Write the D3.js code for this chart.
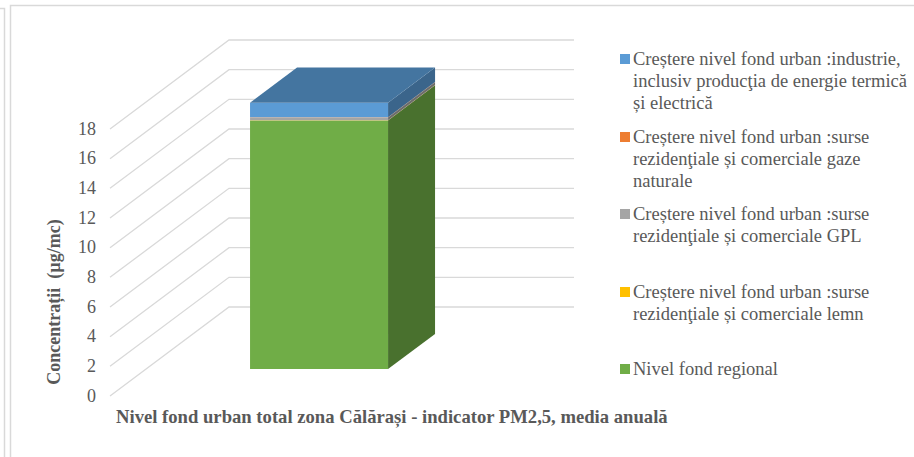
<!DOCTYPE html>
<html>
<head>
<meta charset="utf-8">
<script src="https://cdnjs.cloudflare.com/ajax/libs/d3/7.8.5/d3.min.js"></script>
<style>
  html, body { margin: 0; padding: 0; background: #fff; }
  svg { display: block; }
  text { font-family: "Liberation Serif", serif; fill: #595959; white-space: pre; }
</style>
</head>
<body>
<script>
let w = 914, h = 457;

// values, bottom to top of the stack
let seriesNames = ["Nivel fond regional", "lemn", "GPL", "gaze naturale", "industrie"];
let seriesValues = [16.76, 0.02, 0.18, 0.02, 0.98];
let seriesColors = ["#70ad47", "#ffc000", "#a5a5a5", "#ed7d31", "#5b9bd5"];
let ticks = [0, 2, 4, 6, 8, 10, 12, 14, 16, 18];

let legendLabels = [
  ["Creștere nivel fond urban :industrie,", "inclusiv producţia de energie termică", "și electrică"],
  ["Creștere nivel fond urban :surse", "rezidenţiale și comerciale gaze", "naturale"],
  ["Creștere nivel fond urban :surse", "rezidenţiale și comerciale GPL"],
  ["Creștere nivel fond urban :surse", "rezidenţiale și comerciale lemn"],
  ["Nivel fond regional"]
];
let legendColors = ["#5b9bd5", "#ed7d31", "#a5a5a5", "#ffc000", "#70ad47"];
let legendTops = [54, 132, 209, 287, 364];

let yTitle = "Concentrații  (µg/mc)";
let xTitle = "Nivel fond urban total zona Călărași - indicator PM2,5, media anuală";

let svg = d3.select("body").append("svg").attr("width", w).attr("height", h);

// scanned page frame
let frame = svg.append("g").attr("fill", "none").attr("stroke", "#d9d9d9").attr("stroke-width", 1.5);
frame.append("path").attr("d", "M0,8.5H4.5V457");
frame.append("path").attr("d", "M10.5,457V5.5H914");

// pseudo 3d: value goes up, depth goes back and to the right
let y = d3.scaleLinear().domain([0, 18]).range([396, 129]);
let depthX = d3.scaleLinear().domain([0, 1]).range([0, 119]);
let depthY = d3.scaleLinear().domain([0, 1]).range([0, -89]);
let x = d3.scaleLinear().domain([0, 1]).range([110, 455]);

function pt(cat, val, depth) {
  return [x(cat) + depthX(depth), y(val) + depthY(depth)];
}
let line = d3.line();

// gridlines: floor edge then back wall
let grid = svg.append("g").attr("fill", "none").attr("stroke", "#d9d9d9").attr("stroke-width", 1.3);
ticks.forEach(function(t) {
  grid.append("path").attr("d", line([pt(0, t, 0), pt(0, t, 1), pt(1, t, 1)]));
});

svg.append("g").selectAll("text").data(ticks).enter().append("text")
  .attr("x", 96)
  .attr("y", d => y(d) + 5.5)
  .attr("text-anchor", "end")
  .attr("font-size", 18)
  .text(d => d);

// stacked box
let barLeft = 0.3014, barRight = 0.7014, d0 = 0.303, d1 = 0.698;
let stack = d3.stack().keys(seriesNames.map((n, i) => i)).value((row, k) => row[k])([seriesValues]);

let box = svg.append("g");
stack.forEach(function(s, i) {
  let lo = s[0][0], hi = s[0][1], c = d3.color(seriesColors[i]);
  box.append("path").attr("fill", c.darker(1.2))
    .attr("d", line([pt(barRight, lo, d0), pt(barRight, lo, d1), pt(barRight, hi, d1), pt(barRight, hi, d0)]) + "Z");
  box.append("path").attr("fill", seriesColors[i])
    .attr("d", line([pt(barLeft, lo, d0), pt(barRight, lo, d0), pt(barRight, hi, d0), pt(barLeft, hi, d0)]) + "Z");
});
let total = d3.sum(seriesValues);
box.append("path").attr("fill", d3.color(seriesColors[4]).darker(0.8))
  .attr("d", line([pt(barLeft, total, d0), pt(barRight, total, d0), pt(barRight, total, d1), pt(barLeft, total, d1)]) + "Z");

// axis titles
svg.append("text")
  .attr("transform", "translate(60,302) rotate(-90)")
  .attr("text-anchor", "middle")
  .attr("font-size", 18)
  .attr("font-weight", "bold")
  .text(yTitle);

svg.append("text")
  .attr("x", 116)
  .attr("y", 423)
  .attr("font-size", 18.65)
  .attr("font-weight", "bold")
  .text(xTitle);

// legend
let legend = svg.append("g").selectAll("g").data(legendLabels).enter().append("g");
legend.append("rect")
  .attr("x", 620)
  .attr("y", (d, i) => legendTops[i])
  .attr("width", 10)
  .attr("height", 10)
  .attr("fill", (d, i) => legendColors[i]);
legend.each(function(lines, i) {
  d3.select(this).selectAll("text").data(lines).enter().append("text")
    .attr("x", 633)
    .attr("y", (d, k) => legendTops[i] + 11 + k * 22)
    .attr("font-size", 18.5)
    .text(d => d);
});
</script>
</body>
</html>
